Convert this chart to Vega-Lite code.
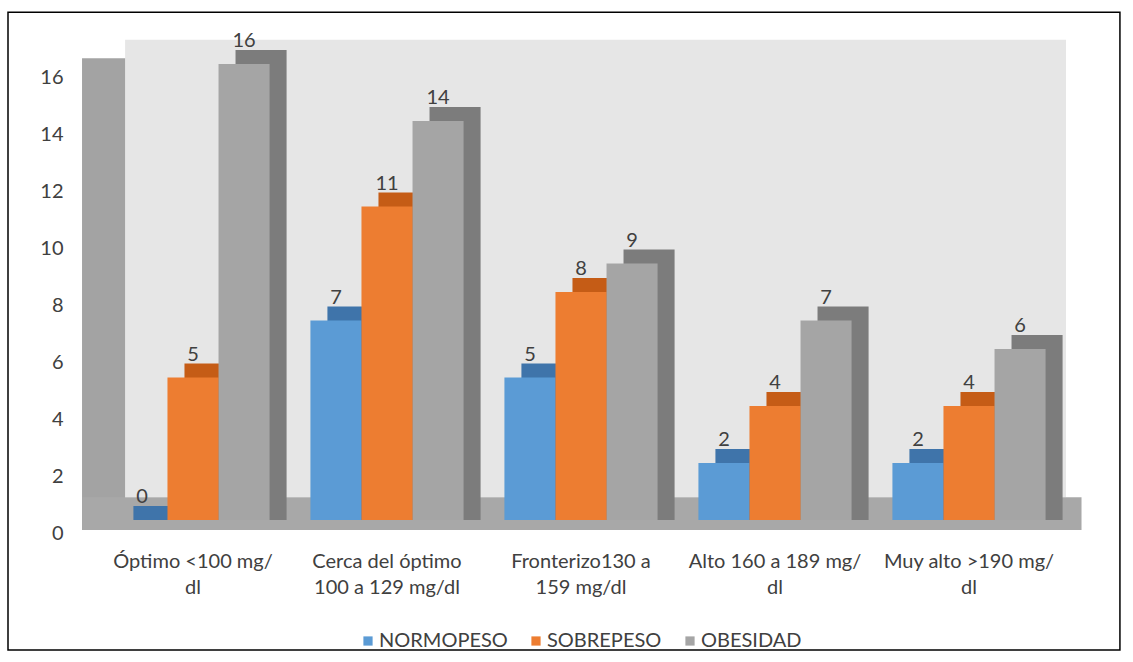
{
  "$schema": "https://vega.github.io/schema/vega-lite/v6.json",
  "width": 970,
  "height": 456,
  "autosize": {"type": "none"},
  "padding": {"left": 96, "top": 64, "right": 67, "bottom": 142},
  "background": "white",
  "config": {
    "font": "Lato",
    "view": {"stroke": null},
    "axisY": {
      "grid": false,
      "ticks": false,
      "domain": false,
      "labelPadding": 33,
      "labelOffset": 13,
      "labelFontSize": 20,
      "labelColor": "#404040",
      "title": null
    },
    "axisX": {
      "grid": false,
      "ticks": false,
      "domain": false,
      "labelPadding": 31,
      "labelFontSize": 20,
      "labelColor": "#404040",
      "labelLineHeight": 26,
      "labelAngle": 0,
      "labelLimit": 300,
      "title": null
    },
    "legend": {
      "orient": "none",
      "legendX": 262,
      "legendY": 567,
      "direction": "horizontal",
      "symbolType": "square",
      "symbolSize": 85,
      "symbolStrokeWidth": 0,
      "symbolOffset": 0,
      "labelOffset": 1,
      "labelFontSize": 20,
      "labelColor": "#404040",
      "columnPadding": 18,
      "title": null
    }
  },
  "datasets": {
    "colesterol": [
      {"categoria": "Óptimo <100 mg/|dl", "serie": "NORMOPESO", "valor": 0},
      {"categoria": "Óptimo <100 mg/|dl", "serie": "SOBREPESO", "valor": 5},
      {"categoria": "Óptimo <100 mg/|dl", "serie": "OBESIDAD", "valor": 16},
      {"categoria": "Cerca del óptimo|100 a 129 mg/dl", "serie": "NORMOPESO", "valor": 7},
      {"categoria": "Cerca del óptimo|100 a 129 mg/dl", "serie": "SOBREPESO", "valor": 11},
      {"categoria": "Cerca del óptimo|100 a 129 mg/dl", "serie": "OBESIDAD", "valor": 14},
      {"categoria": "Fronterizo130 a|159 mg/dl", "serie": "NORMOPESO", "valor": 5},
      {"categoria": "Fronterizo130 a|159 mg/dl", "serie": "SOBREPESO", "valor": 8},
      {"categoria": "Fronterizo130 a|159 mg/dl", "serie": "OBESIDAD", "valor": 9},
      {"categoria": "Alto 160 a 189 mg/|dl", "serie": "NORMOPESO", "valor": 2},
      {"categoria": "Alto 160 a 189 mg/|dl", "serie": "SOBREPESO", "valor": 4},
      {"categoria": "Alto 160 a 189 mg/|dl", "serie": "OBESIDAD", "valor": 7},
      {"categoria": "Muy alto >190 mg/|dl", "serie": "NORMOPESO", "valor": 2},
      {"categoria": "Muy alto >190 mg/|dl", "serie": "SOBREPESO", "valor": 4},
      {"categoria": "Muy alto >190 mg/|dl", "serie": "OBESIDAD", "valor": 6}
    ]
  },
  "data": {"name": "colesterol"},
  "resolve": {"scale": {"x": "independent"}},
  "layer": [
    {
      "description": "3-D box: back wall, side wall and floor, placed in category units",
      "data": {"values": [{}]},
      "layer": [
        {
          "mark": {"type": "rect", "fill": "#E6E6E6"},
          "encoding": {
            "x": {"datum": 0.15, "type": "quantitative", "scale": {"domain": [0, 5], "nice": false, "zero": false}, "axis": null},
            "x2": {"datum": 5},
            "y": {"datum": 0.8, "type": "quantitative", "scale": {"domain": [0, 16], "nice": false}},
            "y2": {"datum": 16.85}
          }
        },
        {
          "mark": {"type": "rect", "fill": "#A3A3A3"},
          "encoding": {
            "x": {"datum": -0.072, "type": "quantitative"},
            "x2": {"datum": 0.15},
            "y": {"datum": -0.35, "type": "quantitative"},
            "y2": {"datum": 16.2}
          }
        },
        {
          "mark": {"type": "rect", "fill": "#A8A8A8"},
          "encoding": {
            "x": {"datum": -0.072, "type": "quantitative"},
            "x2": {"datum": 5.08},
            "y": {"datum": -0.35, "type": "quantitative"},
            "y2": {"datum": 0.8}
          }
        }
      ]
    },
    {
      "description": "columns with their shaded faces and value labels",
      "resolve": {"scale": {"xOffset": "independent", "color": "independent"}},
      "encoding": {
        "x": {"field": "categoria", "type": "nominal", "sort": null, "scale": {"paddingInner": 0, "paddingOuter": 0}, "axis": {"orient": "bottom", "labelExpr": "split(datum.label, '|')"}},
        "y": {"field": "valor", "type": "quantitative", "scale": {"domain": [0, 16], "nice": false}, "axis": {"values": [0, 2, 4, 6, 8, 10, 12, 14, 16]}}
      },
      "layer": [
        {
          "mark": {"type": "bar", "yOffset": -14, "y2Offset": 0},
          "encoding": {
            "y2": {"datum": 0},
            "xOffset": {"field": "serie", "type": "nominal", "sort": ["NORMOPESO", "SOBREPESO", "OBESIDAD"], "scale": {"paddingInner": 0, "paddingOuter": 0.4, "range": [17, 211]}},
            "color": {"field": "serie", "type": "nominal", "sort": ["NORMOPESO", "SOBREPESO", "OBESIDAD"], "scale": {"range": ["#3F74AA", "#C55C16", "#7C7C7C"]}, "legend": null}
          }
        },
        {
          "mark": {"type": "bar"},
          "encoding": {
            "xOffset": {"field": "serie", "type": "nominal", "sort": ["NORMOPESO", "SOBREPESO", "OBESIDAD"], "scale": {"paddingInner": 0, "paddingOuter": 0.4}},
            "color": {"field": "serie", "type": "nominal", "sort": ["NORMOPESO", "SOBREPESO", "OBESIDAD"], "scale": {"range": ["#5B9BD5", "#ED7D31", "#A5A5A5"]}}
          }
        },
        {
          "mark": {"type": "text", "dy": -23, "baseline": "middle", "fontSize": 20, "fill": "#404040"},
          "encoding": {
            "xOffset": {"field": "serie", "type": "nominal", "sort": ["NORMOPESO", "SOBREPESO", "OBESIDAD"], "scale": {"type": "point", "padding": 0.9}},
            "text": {"field": "valor", "type": "quantitative"}
          }
        }
      ]
    },
    {
      "description": "outer frame",
      "data": {"values": [{}]},
      "mark": {"type": "rect", "fill": null, "stroke": "#000000", "strokeWidth": 1.5},
      "encoding": {
        "x": {"datum": -0.4536, "type": "quantitative", "scale": {"domain": [0, 5], "nice": false, "zero": false}, "axis": null},
        "x2": {"datum": 5.278},
        "y": {"datum": -4.56, "type": "quantitative"},
        "y2": {"datum": 17.82}
      }
    }
  ]
}
